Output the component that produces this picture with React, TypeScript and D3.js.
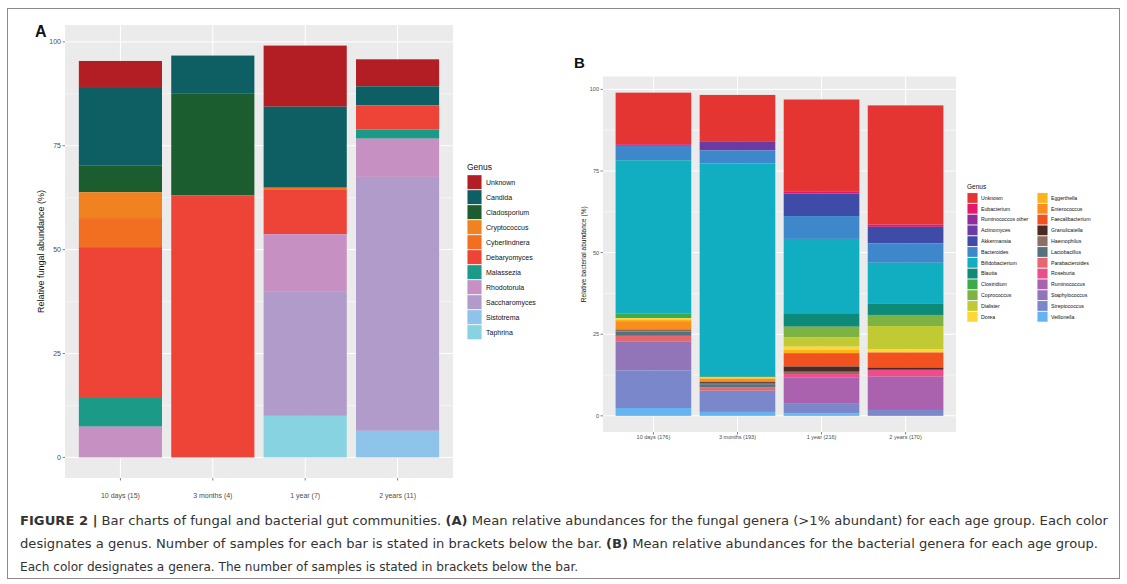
import React from "react";
import * as d3 from "d3";

// ---------- Panel A: fungal genera ----------
const agesA = ["10 days (15)", "3 months (4)", "1 year (7)", "2 years (11)"];
const generaA = [
  "Unknown", "Candida", "Cladosporium", "Cryptococcus", "Cyberlindnera",
  "Debaryomyces", "Malassezia", "Rhodotorula", "Saccharomyces", "Sistotrema", "Taphrina",
];
const coloursA = [
  "#B31E24", "#0E5F63", "#1C5D30", "#F0821F", "#F26F21",
  "#EE4337", "#1B9A87", "#C690C3", "#B09BCA", "#8FC4EA", "#88D3E1",
];
// values in genus order, one array per age group
const fungal10d = [6.5, 18.6, 6.5, 6.2, 7.0, 36.3, 6.9, 7.4, 0, 0, 0];
const fungal3m = [0, 9.2, 24.4, 0, 0, 63.1, 0, 0, 0, 0, 0];
const fungal1y = [14.7, 19.5, 0, 0, 0.4, 10.8, 0, 13.7, 30.0, 0, 10.0];
const fungal2y = [6.5, 4.6, 0, 0, 0, 5.8, 2.2, 9.2, 61.1, 6.4, 0];
const fungalByAge = [fungal10d, fungal3m, fungal1y, fungal2y];

// ---------- Panel B: bacterial genera ----------
const agesB = ["10 days (176)", "3 months (193)", "1 year (216)", "2 years (170)"];
const generaB = [
  "Unknown", "Eubacterium", "Ruminococcus other", "Actinomyces", "Akkermansia", "Bacteroides",
  "Bifidobacterium", "Blautia", "Clostridium", "Coprococcus", "Dialister", "Dorea",
  "Eggerthella", "Enterococcus", "Faecalibacterium", "Granulicatella", "Haemophilus", "Lactobacillus",
  "Parabacteroides", "Roseburia", "Ruminococcus", "Staphylococcus", "Streptococcus", "Veillonella",
];
const coloursB = [
  "#E53532", "#E3186C", "#8E2D9C", "#6A3CA1", "#3E4BA7", "#3D87CA",
  "#11ADC1", "#0E8B78", "#3CAA4A", "#7CB342", "#C1CA33", "#FDD835",
  "#F9B41B", "#F98E1D", "#F2521F", "#4B2A25", "#8D6E63", "#56717E",
  "#E6686E", "#EC4D8C", "#AB62AE", "#9274B8", "#7A87CB", "#64B4F2",
];
const bact10d = [15.8, 0.5, 0, 0, 0, 4.4, 46.9, 0, 1.5, 0, 0, 0.4, 0.5, 2.5, 0, 0, 0.7, 1.3, 1.8, 0, 0, 8.8, 11.5, 2.4];
const bact3m = [14.2, 0, 0, 2.8, 0, 4.0, 65.1, 0.2, 0.2, 0, 0, 0.4, 0, 1.0, 0, 0.3, 0.4, 0.9, 1.1, 0, 0, 0, 6.5, 1.2];
const bact1y = [28.1, 0.7, 0, 0, 6.9, 7.0, 23.0, 3.9, 0, 3.2, 2.9, 1.0, 1.0, 0, 4.1, 1.6, 0.7, 0, 0, 1.0, 7.9, 0, 3.1, 0.8];
const bact2y = [36.5, 0.7, 0, 0, 5.1, 5.9, 12.6, 3.4, 0, 3.4, 7.1, 1.0, 0, 0, 4.6, 0.7, 0, 0, 0, 2.1, 10.2, 0, 1.8, 0];
const bactByAge = [bact10d, bact3m, bact1y, bact2y];

const yTicks = [0, 25, 50, 75, 100];
const yMinor = [12.5, 37.5, 62.5, 87.5];

const FONT = "'Liberation Sans', Arial, Helvetica, sans-serif";

type PanelProps = {
  ages: string[];
  genera: string[];
  colours: string[];
  values: number[][];
  left: number;
  right: number;
  top: number;
  bottom: number;
  tickFont: number;
  xFont: number;
  xLabelY: number;
  title: string;
  titleX: number;
  titleFont: number;
};

function StackedPanel(p: PanelProps) {
  const table = p.ages.map((age, i) => {
    const row: Record<string, number | string> = { age };
    p.genera.forEach((g, j) => (row[g] = p.values[i][j]));
    return row;
  });
  const stack = d3
    .stack<Record<string, number | string>>()
    .keys(p.genera)
    .value((d, k) => d[k] as number)
    .order(d3.stackOrderReverse);
  const series = stack(table);
  const totals = p.values.map((v) => d3.sum(v));
  const maxT = d3.max(totals) as number;
  const ex = maxT * 0.05;
  const y = d3.scaleLinear().domain([-ex, maxT + ex]).range([p.bottom, p.top]);
  const x = d3
    .scaleBand<string>()
    .domain(p.ages)
    .range([p.left, p.right])
    .paddingInner(0.1)
    .paddingOuter(0.15);
  const colour = d3.scaleOrdinal<string, string>().domain(p.genera).range(p.colours);
  return (
    <g>
      <rect x={p.left} y={p.top} width={p.right - p.left} height={p.bottom - p.top} fill="#EBEBEB" />
      {yMinor.map((t) => (
        <line key={"mn" + t} x1={p.left} x2={p.right} y1={y(t)} y2={y(t)} stroke="#fff" strokeWidth={0.5} />
      ))}
      {yTicks.map((t) => (
        <line key={"mj" + t} x1={p.left} x2={p.right} y1={y(t)} y2={y(t)} stroke="#fff" strokeWidth={1} />
      ))}
      {p.ages.map((a) => (
        <line
          key={"v" + a}
          x1={(x(a) as number) + x.bandwidth() / 2}
          x2={(x(a) as number) + x.bandwidth() / 2}
          y1={p.top}
          y2={p.bottom}
          stroke="#fff"
          strokeWidth={1}
        />
      ))}
      {series.map((s) => (
        <g key={s.key} fill={colour(s.key)}>
          {s.map((d, i) =>
            d[1] - d[0] > 0 ? (
              <rect
                key={i}
                x={x(d.data.age as string)}
                width={x.bandwidth()}
                y={y(d[1])}
                height={y(d[0]) - y(d[1])}
              />
            ) : null
          )}
        </g>
      ))}
      {yTicks.map((t) => (
        <g key={"t" + t}>
          <line x1={p.left - 2.5} x2={p.left} y1={y(t)} y2={y(t)} stroke="#333" strokeWidth={0.6} />
          <text
            x={p.left - 4}
            y={y(t)}
            dy="0.35em"
            textAnchor="end"
            fontSize={p.tickFont}
            fill="#4D4D4D"
            fontFamily={FONT}
          >
            {t}
          </text>
        </g>
      ))}
      {p.ages.map((a) => {
        const cx = (x(a) as number) + x.bandwidth() / 2;
        return (
          <g key={"x" + a}>
            <line x1={cx} x2={cx} y1={p.bottom} y2={p.bottom + 2.5} stroke="#333" strokeWidth={0.6} />
            <text x={cx} y={p.xLabelY} textAnchor="middle" fontSize={p.xFont} fill="#4D4D4D" fontFamily={FONT}>
              {a}
            </text>
          </g>
        );
      })}
      <text
        transform={`translate(${p.titleX},${(p.top + p.bottom) / 2}) rotate(-90)`}
        textAnchor="middle"
        fontSize={p.titleFont}
        fill="#111"
        fontFamily={FONT}
      >
        {p.title}
      </text>
    </g>
  );
}

type LegendProps = {
  genera: string[];
  colours: string[];
  x: number;
  y: number;
  perCol: number;
  colGap: number;
  keySize: number;
  pitch: number;
  font: number;
  titleFont: number;
  labelGap: number;
};

function Legend(p: LegendProps) {
  return (
    <g>
      <text x={p.x} y={p.y} fontSize={p.titleFont} fill="#111" fontFamily={FONT}>
        Genus
      </text>
      {p.genera.map((g, i) => {
        const col = Math.floor(i / p.perCol);
        const row = i % p.perCol;
        const kx = p.x + col * p.colGap;
        const ky = p.y + 0.55 * p.titleFont + row * p.pitch;
        return (
          <g key={g}>
            <rect x={kx} y={ky} width={p.keySize} height={p.pitch} fill="#F2F2F2" />
            <rect x={kx + 0.5} y={ky + 0.5} width={p.keySize - 1} height={p.pitch - 1} fill={p.colours[i]} />
            <text
              x={kx + p.keySize + p.labelGap}
              y={ky + p.pitch / 2}
              dy="0.35em"
              fontSize={p.font}
              fill="#111"
              fontFamily={FONT}
            >
              {g}
            </text>
          </g>
        );
      })}
    </g>
  );
}

const CAP_FONT = "'Liberation Sans Narrow', 'DejaVu Sans Condensed', 'Liberation Sans', sans-serif";

export default function App() {
  return (
    <svg
      width={1127}
      height={584}
      viewBox="0 0 1127 584"
      style={{ position: "absolute", left: 0, top: 0, background: "#fff" }}
    >
      <rect x={0} y={0} width={1127} height={584} fill="#fff" />
      <rect x={7.5} y={8.5} width={1112} height={570} fill="none" stroke="#8C8C8C" strokeWidth={1} />

      <text x={35} y={37} fontSize={16} fontWeight="bold" fontFamily={FONT} fill="#111">
        A
      </text>
      <StackedPanel
        ages={agesA}
        genera={generaA}
        colours={coloursA}
        values={fungalByAge}
        left={65}
        right={453}
        top={25}
        bottom={478}
        tickFont={7}
        xFont={7}
        xLabelY={498}
        title="Relative fungal abundance (%)"
        titleX={44}
        titleFont={9}
      />
      <Legend
        genera={generaA}
        colours={coloursA}
        x={467}
        y={170}
        perCol={11}
        colGap={0}
        keySize={15}
        pitch={15}
        font={7}
        titleFont={8.5}
        labelGap={4}
      />

      <text x={574} y={68} fontSize={15} fontWeight="bold" fontFamily={FONT} fill="#111">
        B
      </text>
      <StackedPanel
        ages={agesB}
        genera={generaB}
        colours={coloursB}
        values={bactByAge}
        left={603}
        right={956}
        top={76.5}
        bottom={432}
        tickFont={5.5}
        xFont={5.5}
        xLabelY={439}
        title="Relative bacterial abundance (%)"
        titleX={586}
        titleFont={6.5}
      />
      <Legend
        genera={generaB}
        colours={coloursB}
        x={967}
        y={189}
        perCol={12}
        colGap={70}
        keySize={11}
        pitch={10.8}
        font={5.2}
        titleFont={6.5}
        labelGap={3}
      />

      <g fontFamily={CAP_FONT} fontSize={12.5} fill="#333">
        <text x={20} y={525} textLength={1088} lengthAdjust="spacingAndGlyphs">
          <tspan fontWeight="bold">FIGURE 2 |</tspan> Bar charts of fungal and bacterial gut communities.{" "}
          <tspan fontWeight="bold">(A)</tspan> Mean relative abundances for the fungal genera (&gt;1% abundant) for
          each age group. Each color
        </text>
        <text x={20} y={548} textLength={1078} lengthAdjust="spacingAndGlyphs">
          designates a genus. Number of samples for each bar is stated in brackets below the bar.{" "}
          <tspan fontWeight="bold">(B)</tspan> Mean relative abundances for the bacterial genera for each age group.
        </text>
        <text x={20} y={571} textLength={558} lengthAdjust="spacingAndGlyphs">
          Each color designates a genera. The number of samples is stated in brackets below the bar.
        </text>
      </g>
    </svg>
  );
}
